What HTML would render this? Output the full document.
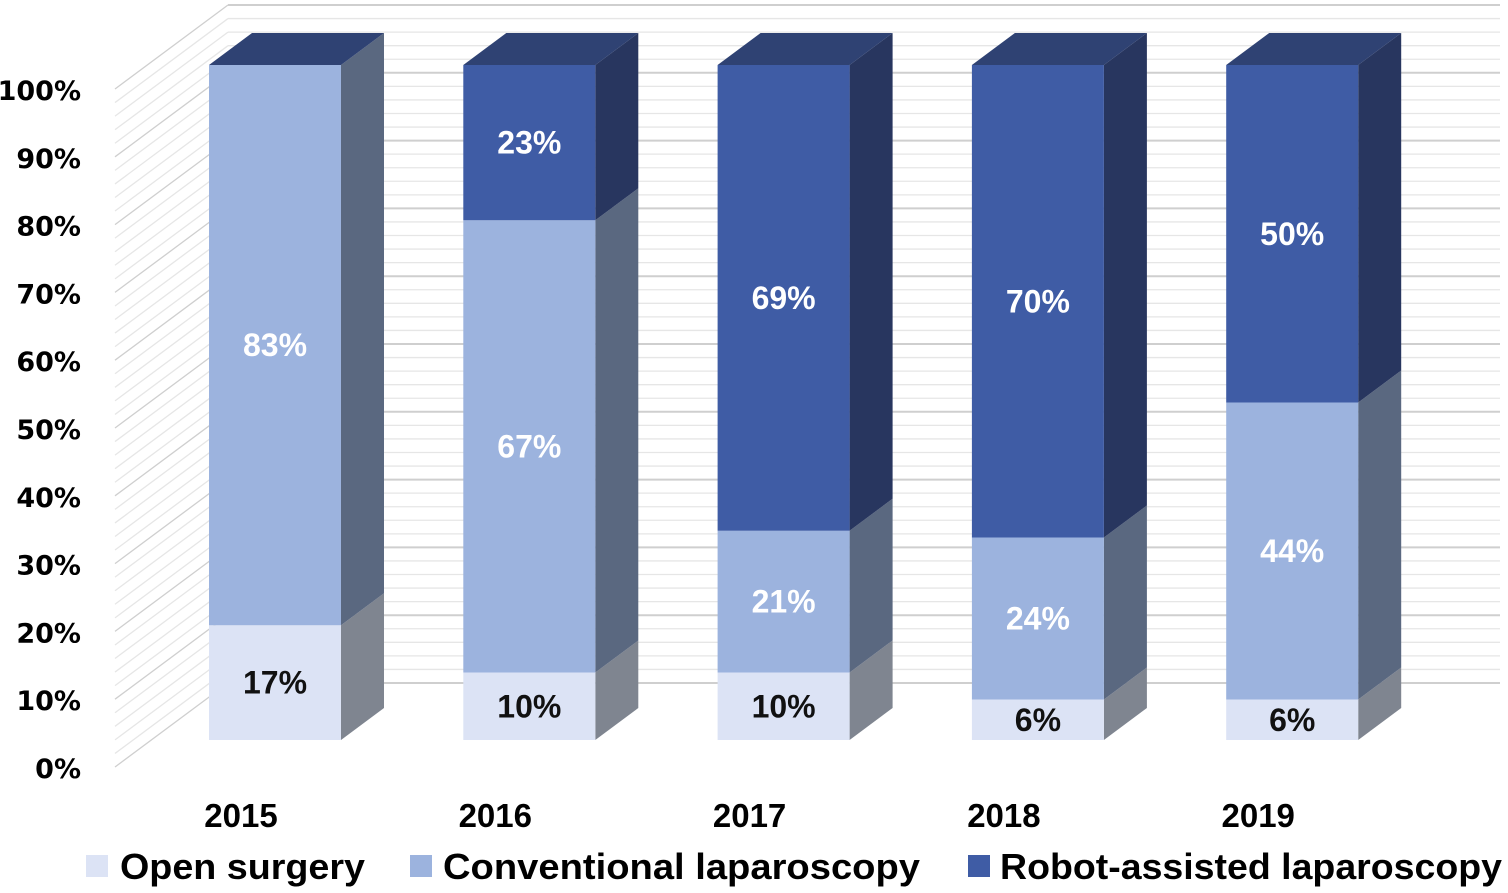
<!DOCTYPE html>
<html><head><meta charset="utf-8"><style>
html,body{margin:0;padding:0;background:#fff;}
svg{display:block;}
</style></head><body>
<svg id="chart" width="1508" height="893" viewBox="0 0 1508 893" xmlns="http://www.w3.org/2000/svg">
<g id="grid"></g>
<g id="yaxis"></g>
<g id="bars"></g>
<g id="xaxis"></g>
<g id="legend">
  <rect x="86" y="855" width="22" height="22" fill="#dce3f5"/>
  <text x="120" y="879" font-family="Liberation Sans, sans-serif" font-weight="bold" font-size="36" textLength="245" lengthAdjust="spacingAndGlyphs" fill="#000">Open surgery</text>
  <rect x="410" y="855" width="22" height="22" fill="#9cb3de"/>
  <text x="443" y="879" font-family="Liberation Sans, sans-serif" font-weight="bold" font-size="36" textLength="477" lengthAdjust="spacingAndGlyphs" fill="#000">Conventional laparoscopy</text>
  <rect x="968" y="855" width="22" height="22" fill="#3f5ca5"/>
  <text x="1000" y="879" font-family="Liberation Sans, sans-serif" font-weight="bold" font-size="36" textLength="502" lengthAdjust="spacingAndGlyphs" fill="#000">Robot-assisted laparoscopy</text>
</g>
</svg>
<script>
const categories = ["2015","2016","2017","2018","2019"];
const openSurgery = [17,10,10,6,6];
const conventional = [83,67,21,24,44];
const robot = [0,23,69,70,50];
const yTicks = [0,10,20,30,40,50,60,70,80,90,100];

const NS = "http://www.w3.org/2000/svg";
function mk(tag, attrs, parent){const e=document.createElementNS(NS,tag);for(const k in attrs)e.setAttribute(k,attrs[k]);parent.appendChild(e);return e;}
const PX = 6.75;
function yLabelPlane(v){return 767 - v*6.78;}
function yBar(v){return 740 - v*PX;}
function xBar(i){return 209 + i*254.3;}
const BW = 132, DX = 43, DY = -32;

const grid = document.getElementById('grid');
for(let p=0;p<=100;p+=2){
  const major = p%10===0;
  const col = major ? "#cfcfcf" : "#e6e6e6";
  const yf = yLabelPlane(p), yb = yf - 84;
  const d = mk('line',{x1:115,y1:yf,x2:228,y2:yb,stroke:col,'stroke-width':1.3},grid);
  
  
  const h = mk('line',{x1:228,y1:yb,x2:1500,y2:yb,stroke:col,'stroke-width':major?2:1.3},grid);
  
  
}
const yax = document.getElementById('yaxis');
yTicks.forEach(v=>{
  const t = mk('text',{x:81,y:yLabelPlane(v)+11,'text-anchor':'end','font-family':'DejaVu Sans, sans-serif','font-weight':'bold','font-size':27,fill:'#000'},yax);
  t.textContent = v+'%';
  
  
});
const bars = document.getElementById('bars');
const series = [
  {vals:openSurgery, front:'#dce3f5', side:'#7f8590', txt:'#111', name:'open'},
  {vals:conventional, front:'#9cb3de', side:'#5a6880', txt:'#fff', name:'conventional'},
  {vals:robot, front:'#3f5ca5', side:'#28365f', txt:'#fff', name:'robot'}
];
categories.forEach((c,i)=>{
  const x = xBar(i);
  let base = 0;
  const g = mk('g',{},bars);
  
  
  let lastTop = null;
  series.forEach(s=>{
    const v = s.vals[i];
    if(v<=0) return;
    const y0 = yBar(base), y1 = yBar(base+v);
    const side = mk('polygon',{points:`${x+BW},${y0} ${x+BW+DX},${y0+DY} ${x+BW+DX},${y1+DY} ${x+BW},${y1}`,fill:s.side},g);
    
    
    const r = mk('rect',{x:x,y:y1,width:BW,height:y0-y1,fill:s.front},g);
    
    
    const t = mk('text',{x:x+BW/2,y:(y0+y1)/2+11,'text-anchor':'middle','font-family':'Liberation Sans, sans-serif','font-weight':'bold','font-size':32,fill:s.txt},g);
    t.textContent = v+'%';
    
    
    base += v; lastTop = y1;
  });
  const top = mk('polygon',{points:`${x},${lastTop} ${x+DX},${lastTop+DY} ${x+BW+DX},${lastTop+DY} ${x+BW},${lastTop}`,fill:'#2f4273'},g);
  
  
});
const xax = document.getElementById('xaxis');
categories.forEach((c,i)=>{
  const t = mk('text',{x:xBar(i)+32,y:827,'text-anchor':'middle','font-family':'Liberation Sans, sans-serif','font-weight':'bold','font-size':33,fill:'#000'},xax);
  t.textContent = c;
  
  
});
</script>
</body></html>
